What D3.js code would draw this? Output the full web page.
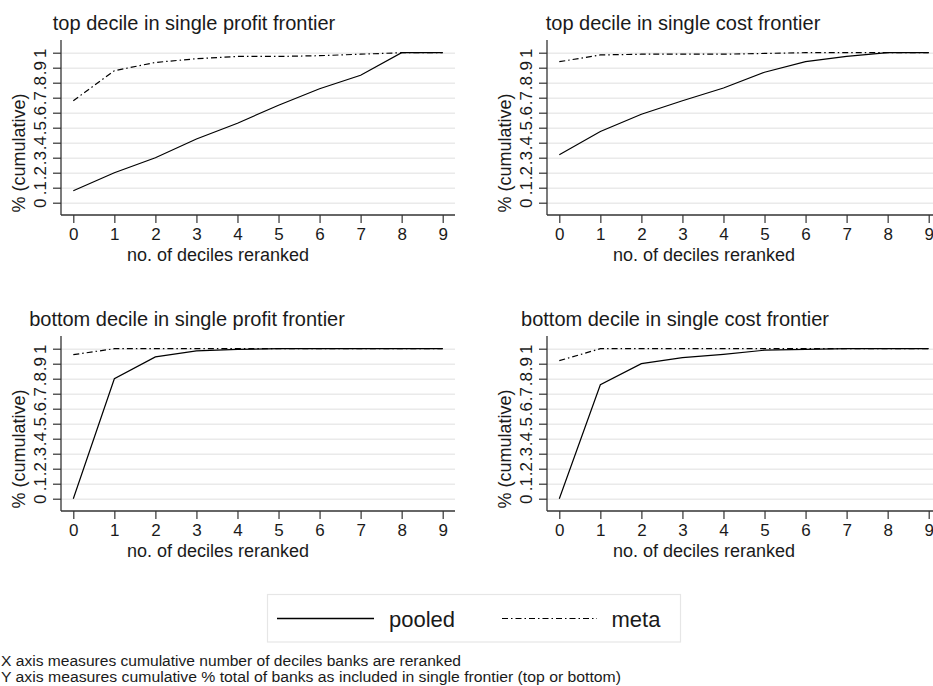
<!DOCTYPE html>
<html>
<head>
<meta charset="utf-8">
<script src="https://cdn.jsdelivr.net/npm/d3@7"></script>
<style>
  body { margin: 0; background: #fff; }
  svg text { font-family: "Liberation Sans", Arial, sans-serif; fill: #1a1a1a; }
</style>
</head>
<body>
<div id="chart"></div>
<script>
// deciles reranked (x axis)
const deciles = [0, 1, 2, 3, 4, 5, 6, 7, 8, 9];
const yTicks = [0, 0.1, 0.2, 0.3, 0.4, 0.5, 0.6, 0.7, 0.8, 0.9, 1];
const yTickLabels = ["0", ".1", ".2", ".3", ".4", ".5", ".6", ".7", ".8", ".9", "1"];

const topProfitPooled = [0.08, 0.20, 0.30, 0.425, 0.53, 0.65, 0.76, 0.85, 1.0, 1.0];
const topProfitMeta = [0.68, 0.88, 0.935, 0.96, 0.975, 0.975, 0.98, 0.99, 1.0, 1.0];
const topCostPooled = [0.32, 0.475, 0.59, 0.68, 0.765, 0.87, 0.94, 0.975, 1.0, 1.0];
const topCostMeta = [0.94, 0.985, 0.99, 0.99, 0.99, 0.995, 1.0, 1.0, 1.0, 1.0];
const bottomProfitPooled = [0.0, 0.80, 0.945, 0.985, 0.995, 1.0, 1.0, 1.0, 1.0, 1.0];
const bottomProfitMeta = [0.96, 1.0, 1.0, 1.0, 1.0, 1.0, 1.0, 1.0, 1.0, 1.0];
const bottomCostPooled = [0.0, 0.76, 0.90, 0.94, 0.962, 0.99, 0.995, 1.0, 1.0, 1.0];
const bottomCostMeta = [0.92, 1.0, 1.0, 1.0, 1.0, 1.0, 1.0, 1.0, 1.0, 1.0];

const panelTitles = [
    "top decile in single profit frontier",
    "top decile in single cost frontier",
    "bottom decile in single profit frontier",
    "bottom decile in single cost frontier"
];
const seriesNames = ["pooled", "meta"];
const notes = [
    "X axis measures cumulative number of deciles banks are reranked",
    "Y axis measures cumulative % total of banks as included in single frontier (top or bottom)"
];

const panels = [
    {title: panelTitles[0], pooled: topProfitPooled, meta: topProfitMeta, dx: 0, dy: 0, tx: 194},
    {title: panelTitles[1], pooled: topCostPooled, meta: topCostMeta, dx: 486, dy: 0, tx: 683},
    {title: panelTitles[2], pooled: bottomProfitPooled, meta: bottomProfitMeta, dx: 0, dy: 296, tx: 187},
    {title: panelTitles[3], pooled: bottomCostPooled, meta: bottomCostMeta, dx: 486, dy: 296, tx: 675}
];

const width = 933, height = 686;
const metaDash = "6,3,1.5,3";

const svg = d3.select("#chart")
    .append("svg")
    .attr("width", width)
    .attr("height", height);

svg.append("rect").attr("width", width).attr("height", height).attr("fill", "#fff");

// panel frame (same for every panel, shifted by dx/dy)
const axisX = 61, plotRight = 455, axisTop = 40, axisBottom = 215;

const x = d3.scaleLinear().domain([0, 9]).range([73.3, 442.7]);
const y = d3.scaleLinear().domain([0, 1]).range([202.7, 52.7]);

panels.forEach((p) => {
    const g = svg.append("g").attr("transform", "translate(" + p.dx + "," + p.dy + ")");

    // gridlines
    g.append("g")
        .attr("transform", "translate(" + axisX + ",0)")
        .call(d3.axisLeft(y).tickValues(yTicks).tickSize(-(plotRight - axisX)).tickFormat(""))
        .call((a) => a.select(".domain").remove())
        .call((a) => a.selectAll("line").attr("stroke", "#eaeaea").attr("stroke-width", 1.5));

    // y axis
    const ya = g.append("g")
        .attr("transform", "translate(" + axisX + ",0)")
        .call(d3.axisLeft(y).tickValues(yTicks).tickSize(8).tickFormat((d, i) => yTickLabels[i]));
    ya.select(".domain").remove();
    ya.selectAll("line").attr("stroke", "#333").attr("stroke-width", 1.2);
    ya.selectAll("text")
        .attr("transform", "rotate(-90)")
        .attr("x", 0)
        .attr("y", -15.5)
        .attr("dy", 0)
        .attr("text-anchor", "middle")
        .style("font-size", "17px")
        .attr("fill", "#1a1a1a");
    g.append("line")
        .attr("x1", axisX).attr("x2", axisX)
        .attr("y1", axisTop).attr("y2", axisBottom)
        .attr("stroke", "#333").attr("stroke-width", 1.3);

    // x axis
    const xa = g.append("g")
        .attr("transform", "translate(0," + axisBottom + ")")
        .call(d3.axisBottom(x).tickValues(deciles).tickSize(8).tickPadding(5).tickFormat(d3.format("d")));
    xa.select(".domain").remove();
    xa.selectAll("line").attr("stroke", "#333").attr("stroke-width", 1.2);
    xa.selectAll("text").style("font-size", "17px").attr("fill", "#1a1a1a");
    g.append("line")
        .attr("x1", axisX).attr("x2", plotRight)
        .attr("y1", axisBottom).attr("y2", axisBottom)
        .attr("stroke", "#333").attr("stroke-width", 1.3);

    // titles
    g.append("text")
        .attr("x", p.tx - p.dx).attr("y", 30)
        .attr("text-anchor", "middle")
        .style("font-size", "20px")
        .text(p.title);
    g.append("text")
        .attr("x", 218).attr("y", 261)
        .attr("text-anchor", "middle")
        .style("font-size", "18px")
        .text("no. of deciles reranked");
    g.append("text")
        .attr("transform", "translate(25,153) rotate(-90)")
        .attr("text-anchor", "middle")
        .style("font-size", "18px")
        .text("% (cumulative)");

    // lines
    const line = d3.line().x((d, i) => x(deciles[i])).y((d) => y(d));
    g.append("path")
        .datum(p.meta)
        .attr("d", line)
        .attr("fill", "none")
        .attr("stroke", "#000")
        .attr("stroke-width", 1.2)
        .attr("stroke-dasharray", metaDash);
    g.append("path")
        .datum(p.pooled)
        .attr("d", line)
        .attr("fill", "none")
        .attr("stroke", "#000")
        .attr("stroke-width", 1.2);
});

// legend
const legend = svg.append("g");
legend.append("rect")
    .attr("x", 267.5).attr("y", 594.5)
    .attr("width", 413).attr("height", 47.5)
    .attr("fill", "#fff")
    .attr("stroke", "#e6e6e6")
    .attr("stroke-width", 1.2);
legend.append("line")
    .attr("x1", 277).attr("x2", 374).attr("y1", 618.5).attr("y2", 618.5)
    .attr("stroke", "#000").attr("stroke-width", 1.6);
legend.append("text")
    .attr("x", 389).attr("y", 626.5)
    .style("font-size", "22px")
    .text(seriesNames[0]);
legend.append("line")
    .attr("x1", 502).attr("x2", 597).attr("y1", 618.5).attr("y2", 618.5)
    .attr("stroke", "#000").attr("stroke-width", 1.2)
    .attr("stroke-dasharray", metaDash);
legend.append("text")
    .attr("x", 611.5).attr("y", 626.5)
    .style("font-size", "22px")
    .text(seriesNames[1]);

// notes (stretched a little, like the reference)
const noteWidths = [460, 620];
svg.selectAll(".note")
    .data(notes)
    .enter()
    .append("text")
    .attr("class", "note")
    .attr("x", 1)
    .attr("y", (d, i) => 666 + i * 16)
    .attr("textLength", (d, i) => noteWidths[i])
    .attr("lengthAdjust", "spacingAndGlyphs")
    .style("font-size", "14px")
    .text((d) => d);
</script>
</body>
</html>
